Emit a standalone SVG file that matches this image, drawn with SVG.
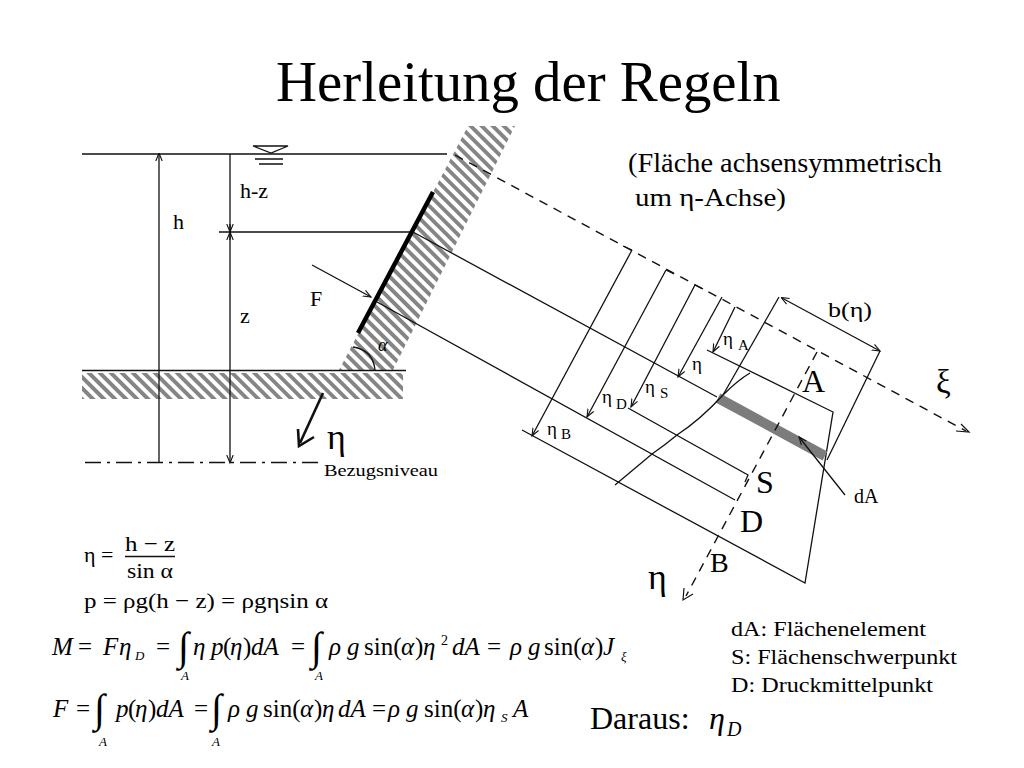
<svg xmlns="http://www.w3.org/2000/svg" width="1024" height="768" viewBox="0 0 1024 768">
<style>
text{font-family:"Liberation Serif","DejaVu Serif",serif;fill:#000}
.i{font-style:italic}
.l{fill:none;stroke:#111;stroke-width:1.3}
.a{fill:none;stroke:#111;stroke-width:1.3;marker-end:url(#o)}
.d{fill:none;stroke:#111;stroke-width:1.4;stroke-dasharray:9 7}
.lab{font-size:22px}
.eq{font-size:25px}
.int{font-size:40px}
.sub{font-size:13px;font-style:italic}
.leg{font-size:20px}
</style>
<defs>
<pattern id="h" width="7.8" height="7.8" patternUnits="userSpaceOnUse" patternTransform="rotate(-45)">
<rect width="3.9" height="7.8" fill="#858585"/>
</pattern>
<marker id="o" markerWidth="10" markerHeight="10" refX="8" refY="4" orient="auto" markerUnits="userSpaceOnUse"><path d="M0,0.8L8,4L0,7.2" fill="none" stroke="#111" stroke-width="1.1"/></marker>
<marker id="s" markerWidth="10" markerHeight="10" refX="1" refY="4" orient="auto" markerUnits="userSpaceOnUse"><path d="M8,0.8L0,4L8,7.2" fill="none" stroke="#111" stroke-width="1.1"/></marker>
</defs>
<rect width="1024" height="768" fill="#fff"/>
<g id="title"><text x="276" y="101" font-size="56.8">Herleitung der Regeln</text></g>
<g id="note"><text x="628" y="172" font-size="28" textLength="314" lengthAdjust="spacingAndGlyphs">(Fläche achsensymmetrisch</text><text x="635" y="206" font-size="26" textLength="151" lengthAdjust="spacingAndGlyphs">um η-Achse)</text></g>
<g id="hatching">
<path d="M339,370L468,126H515L393,370Z" fill="url(#h)"/>
<rect x="82" y="373" width="321" height="26" fill="url(#h)"/>
</g>
<g id="connectors">
<path class="l" d="M82,154H447M219,232H410M82,370.5H406"/>
<path class="l" stroke-dasharray="16 6 3 6" d="M85,462.5H320"/>
<path class="l" d="M159,154V463M230,154V463" marker-start="url(#s)" marker-end="url(#o)"/>
<path class="a" d="M230,224V232"/><path class="a" d="M230,240V232"/>
<path d="M253,146H288L271,153ZM255,159H283M259,164H283" fill="none" stroke="#111" stroke-width="1.3"/>
<path d="M433,192L358,333" fill="none" stroke="#000" stroke-width="4.5"/>
<path class="a" d="M312,265L371,297"/>
<path class="l" d="M353,347Q373,350 375,370"/>
<path d="M323,393L300,443" fill="none" stroke="#111" stroke-width="2.6"/>
<path d="M298,429L299,446L314,437" fill="none" stroke="#111" stroke-width="2.6"/>
<path class="d" d="M455,155L966,431"/>
<path d="M956,431L969,432L961,424" fill="none" stroke="#111" stroke-width="1.2"/>
<path class="l" d="M413,232L717,397M377,302L735,500"/>
<path class="l" d="M628,408L748,475L745,482M707,350L833,412L805,583L522,430"/>
<path d="M718,398L825,456" fill="none" stroke="#7c7c7c" stroke-width="10"/>
<path class="l" d="M750,373Q738,380 723,395Q700,420 677,435Q665,445 652,454L615,485"/>
<path class="d" d="M817,352L686,596"/>
<path d="M684,588L683,600L693,594" fill="none" stroke="#111" stroke-width="1.2"/>
<path class="a" d="M632,250L532,436"/><path class="l" d="M623,246L632,250"/>
<path class="a" d="M666,270L587,417"/><path class="l" d="M666,270L674,274"/>
<path class="a" d="M695,285L631,407"/><path class="l" d="M695,285L703,289"/>
<path class="a" d="M722,297L678,377"/>
<path class="a" d="M735,307L713,352"/>
<path class="l" d="M779,297L723,395"/>
<path class="l" d="M880,351L827,460"/>
<path class="a" d="M782,298L880,351" marker-start="url(#s)"/>
<path class="a" d="M845,495L799,437"/>
</g>
<g id="diagram-labels">
<text class="lab" x="173" y="229">h</text>
<text class="lab" x="240" y="198">h-z</text>
<text class="lab" x="240" y="323">z</text>
<text class="lab" x="310" y="306">F</text>
<text class="i" x="378" y="351" font-size="18">α</text>
<text x="327" y="449" font-size="36">η</text>
<text x="324" y="476" font-size="17" textLength="114" lengthAdjust="spacingAndGlyphs">Bezugsniveau</text>
<text x="828" y="317" font-size="21" textLength="44" lengthAdjust="spacingAndGlyphs">b(η)</text>
<text x="802" y="392" font-size="32">A</text>
<text x="756" y="493" font-size="32">S</text>
<text x="740" y="532" font-size="32">D</text>
<text x="710" y="572" font-size="28">B</text>
<text x="648" y="589" font-size="36">η</text>
<text x="936" y="393" font-size="33">ξ</text>
<text x="854" y="503" font-size="20">dA</text>
<text x="723" y="345" font-size="19">η</text><text x="738" y="350" font-size="15">A</text>
<text x="692" y="370" font-size="19">η</text>
<text x="645" y="393" font-size="19">η</text><text x="660" y="398" font-size="15">S</text>
<text x="602" y="403" font-size="19">η</text><text x="616" y="409" font-size="15">D</text>
<text x="547" y="435" font-size="19">η</text><text x="561" y="439" font-size="15">B</text>
</g>
<g id="equations-upper">
<text class="lab" x="84" y="562">η =</text>
<text class="lab" x="125" y="551" textLength="50" lengthAdjust="spacingAndGlyphs">h − z</text>
<path class="l" d="M125,556.5H175"/>
<text class="lab" x="127" y="578" textLength="46" lengthAdjust="spacingAndGlyphs">sin α</text>
<text class="lab" x="84" y="608" textLength="244" lengthAdjust="spacingAndGlyphs">p = ρg(h − z) = ρgηsin α</text>
</g>
<g id="equation-m">
<text class="eq" y="655"><tspan class="i" x="52">M</tspan><tspan x="78">=</tspan><tspan class="i" x="103">F</tspan><tspan class="i" x="119">η</tspan></text>
<text class="sub" x="135" y="660">D</text>
<text class="eq" x="156" y="655">=</text>
<text class="int" x="178" y="660">∫</text><text class="sub" x="181" y="680">A</text>
<text class="eq" y="655"><tspan class="i" x="193">η</tspan><tspan class="i" x="211">p</tspan><tspan x="223">(</tspan><tspan class="i" x="230">η</tspan><tspan x="243">)</tspan><tspan class="i" x="251">dA</tspan><tspan x="291">=</tspan></text>
<text class="int" x="311" y="660">∫</text><text class="sub" x="315" y="680">A</text>
<text class="eq" y="655"><tspan class="i" x="329">ρ</tspan><tspan class="i" x="347">g</tspan><tspan x="364">sin(</tspan><tspan class="i" x="401">α</tspan><tspan x="415">)</tspan><tspan class="i" x="423">η</tspan></text>
<text x="441" y="645" font-size="14">2</text>
<text class="eq" y="655"><tspan class="i" x="452">dA</tspan><tspan x="487">=</tspan><tspan class="i" x="510">ρ</tspan><tspan class="i" x="528">g</tspan><tspan x="544">sin(</tspan><tspan class="i" x="581">α</tspan><tspan x="595">)</tspan><tspan class="i" x="603">J</tspan></text>
<text class="sub" x="621" y="661">ξ</text>
</g>
<g id="equation-f">
<text class="eq" y="717"><tspan class="i" x="53">F</tspan><tspan x="76">=</tspan></text>
<text class="int" x="94" y="722">∫</text><text class="sub" x="99" y="746">A</text>
<text class="eq" y="717"><tspan class="i" x="116">p</tspan><tspan x="128">(</tspan><tspan class="i" x="135">η</tspan><tspan x="148">)</tspan><tspan class="i" x="156">dA</tspan><tspan x="194">=</tspan></text>
<text class="int" x="211" y="722">∫</text><text class="sub" x="212" y="746">A</text>
<text class="eq" y="717"><tspan class="i" x="228">ρ</tspan><tspan class="i" x="246">g</tspan><tspan x="263">sin(</tspan><tspan class="i" x="300">α</tspan><tspan x="314">)</tspan><tspan class="i" x="322">η</tspan><tspan class="i" x="338">dA</tspan><tspan x="372">=</tspan><tspan class="i" x="388">ρ</tspan><tspan class="i" x="406">g</tspan><tspan x="424">sin(</tspan><tspan class="i" x="461">α</tspan><tspan x="475">)</tspan><tspan class="i" x="483">η</tspan></text>
<text class="sub" x="501" y="722">S</text>
<text class="eq i" x="513" y="717">A</text>
</g>
<g id="legend">
<text class="leg" x="731" y="636" textLength="195" lengthAdjust="spacingAndGlyphs">dA: Flächenelement</text>
<text class="leg" x="731" y="664" textLength="226" lengthAdjust="spacingAndGlyphs">S: Flächenschwerpunkt</text>
<text class="leg" x="731" y="692" textLength="202" lengthAdjust="spacingAndGlyphs">D: Druckmittelpunkt</text>
</g>
<g id="result">
<text x="590" y="729" font-size="32">Daraus:</text>
<text class="i" x="709" y="729" font-size="32">η</text>
<text class="i" x="727" y="736" font-size="20">D</text>
</g>
</svg>
